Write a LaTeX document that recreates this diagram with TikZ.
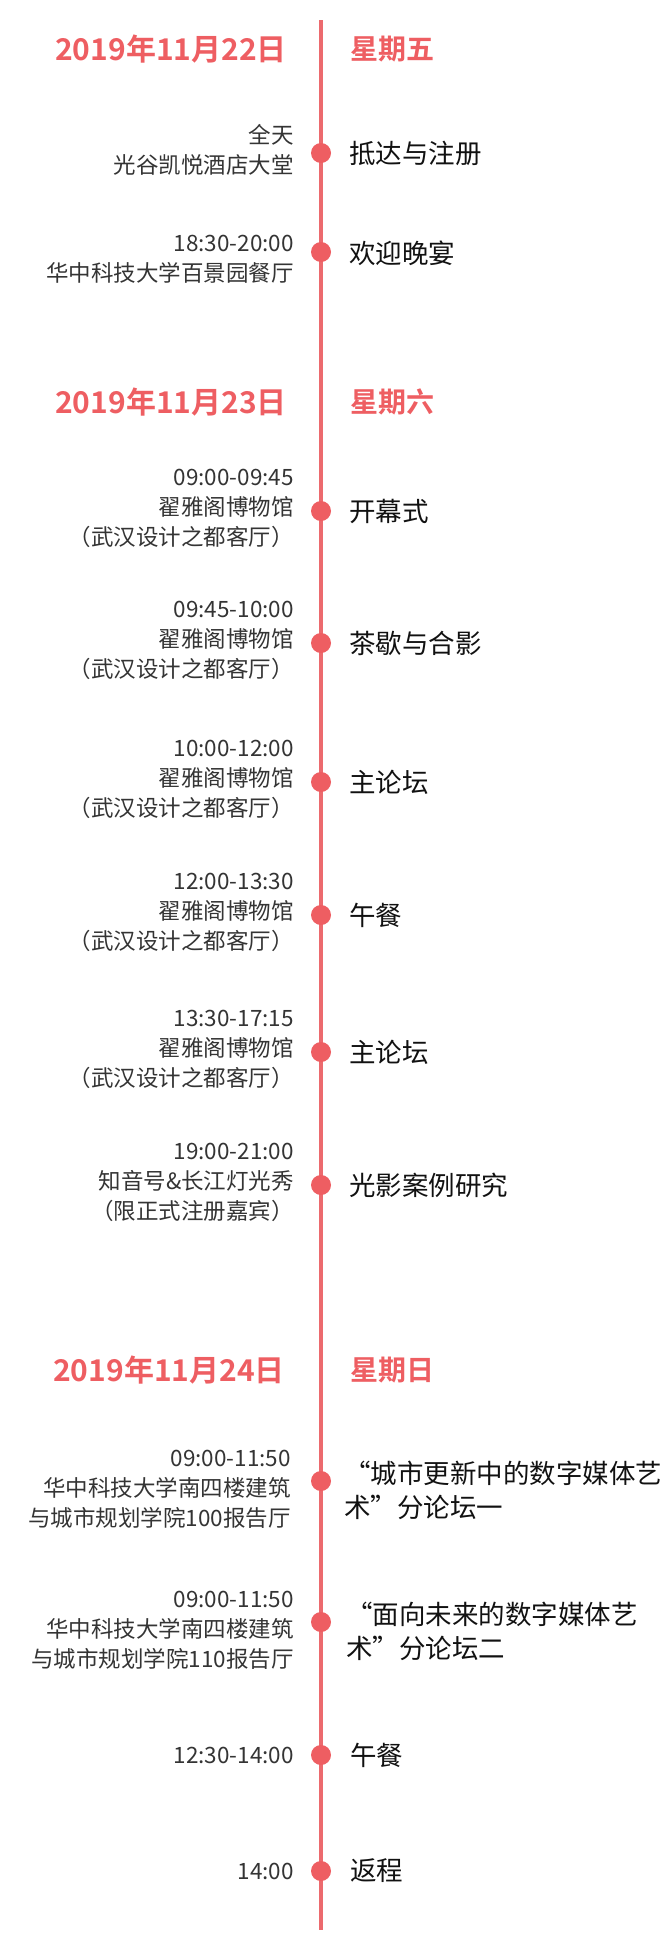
\documentclass[tikz,border=0pt]{standalone}
\usepackage{fontspec}
\usepackage{tikz}
\usepackage{xcolor}
\setmainfont{Noto Sans CJK SC}
\newfontfamily\datefont{Noto Sans CJK SC Bold}
\newcommand{\fq}[1]{{\addfontfeature{RawFeature=+fwid}#1}}
\definecolor{tlred}{RGB}{238,94,98}
\definecolor{tlline}{RGB}{236,106,110}
\definecolor{placegray}{RGB}{52,52,52}
\definecolor{eventblack}{RGB}{17,17,17}

\begin{document}
\begin{tikzpicture}[x=1pt, y=-1pt,
  spine/.style={draw=tlline, line width=3.5pt},
  dot/.style={circle, fill=tlred, inner sep=0pt, minimum size=20pt},
  place/.style={anchor=east, align=right, inner sep=0pt, text=placegray, font=\fontsize{22.5}{30}\selectfont},
  event/.style={anchor=west, align=left, inner sep=0pt, text=eventblack, font=\fontsize{26.5}{34}\selectfont},
  date/.style={anchor=east, inner sep=0pt, text=tlred, font=\datefont\fontsize{30}{34}\selectfont},
  week/.style={anchor=west, inner sep=0pt, text=tlred, font=\datefont\fontsize{28}{34}\selectfont}]
\useasboundingbox (0,0) rectangle (670,1941);
\coordinate (top) at (321,20);
\coordinate (bot) at (321,1930);
\draw[spine] (top) -- (bot);

\node[date] (day1) at (287,49) {2019年11月22日};
\node[week] (wk1) at (350,49) {星期五};
\node[dot] (d1) at (321,153) {};
\node[place] (p1) at (294,150) {全天\\光谷凯悦酒店大堂};
\node[event] (e1) at (349,153) {抵达与注册};
\node[dot] (d2) at (321,252) {};
\node[place] (p2) at (294,259) {18:30-20:00\\华中科技大学百景园餐厅};
\node[event] (e2) at (349,253) {欢迎晚宴};

\node[date] (day2) at (287,402) {2019年11月23日};
\node[week] (wk2) at (350,402) {星期六};
\node[dot] (d3) at (321,511) {};
\node[place] (p3) at (294,508) {09:00-09:45\\翟雅阁博物馆\\（武汉设计之都客厅）};
\node[event] (e3) at (349,511) {开幕式};
\node[dot] (d4) at (321,643) {};
\node[place] (p4) at (294,640) {09:45-10:00\\翟雅阁博物馆\\（武汉设计之都客厅）};
\node[event] (e4) at (349,643) {茶歇与合影};
\node[dot] (d5) at (321,782) {};
\node[place] (p5) at (294,779) {10:00-12:00\\翟雅阁博物馆\\（武汉设计之都客厅）};
\node[event] (e5) at (349,782) {主论坛};
\node[dot] (d6) at (321,915) {};
\node[place] (p6) at (294,912) {12:00-13:30\\翟雅阁博物馆\\（武汉设计之都客厅）};
\node[event] (e6) at (349,915) {午餐};
\node[dot] (d7) at (321,1052) {};
\node[place] (p7) at (294,1049) {13:30-17:15\\翟雅阁博物馆\\（武汉设计之都客厅）};
\node[event] (e7) at (349,1052) {主论坛};
\node[dot] (d8) at (321,1185) {};
\node[place] (p8) at (294,1182) {19:00-21:00\\知音号\&长江灯光秀\\（限正式注册嘉宾）};
\node[event] (e8) at (349,1185) {光影案例研究};

\node[date] (day3) at (285,1370) {2019年11月24日};
\node[week] (wk3) at (350,1370) {星期日};
\node[dot] (d9) at (321,1481) {};
\node[place] (p9) at (291,1489) {09:00-11:50\\华中科技大学南四楼建筑\\与城市规划学院100报告厅};
\node[event] (e9) at (344,1490) {\fq{“}城市更新中的数字媒体艺\\术\fq{”}分论坛一};
\node[dot] (d10) at (321,1622) {};
\node[place] (p10) at (294,1630) {09:00-11:50\\华中科技大学南四楼建筑\\与城市规划学院110报告厅};
\node[event] (e10) at (346,1631) {\fq{“}面向未来的数字媒体艺\\术\fq{”}分论坛二};
\node[dot] (d11) at (321,1755) {};
\node[place] (p11) at (294,1755) {12:30-14:00};
\node[event] (e11) at (350,1755) {午餐};
\node[dot] (d12) at (321,1871) {};
\node[place] (p12) at (294,1871) {14:00};
\node[event] (e12) at (350,1871) {返程};
\end{tikzpicture}
\end{document}
